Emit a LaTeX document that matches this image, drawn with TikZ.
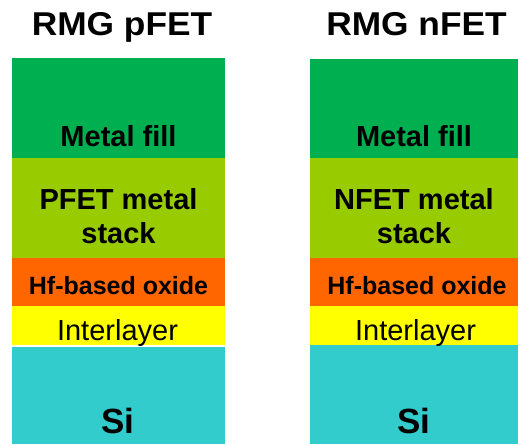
\documentclass[tikz,border=0pt]{standalone}
\usepackage{fontspec}
\setmainfont{Liberation Sans}
\definecolor{fillgreen}{HTML}{00B050}
\definecolor{stackolive}{HTML}{99CC00}
\definecolor{oxideorange}{HTML}{FF6600}
\definecolor{ilyellow}{HTML}{FFFF00}
\definecolor{sicyan}{HTML}{33CCCC}
\begin{document}
\begin{tikzpicture}[x=1pt,y=-1pt,
  title/.style={font=\fontsize{33}{33}\selectfont\bfseries, anchor=base, inner sep=0pt, xscale=1.07},
  boldlabel/.style={font=\fontsize{29}{34}\selectfont\bfseries, anchor=base, inner sep=0pt, align=center},
  oxidelabel/.style={font=\fontsize{25}{25}\selectfont\bfseries, anchor=base, inner sep=0pt},
  illabel/.style={font=\fontsize{29}{29}\selectfont, anchor=base, inner sep=0pt},
  silabel/.style={font=\fontsize{35}{35}\selectfont\bfseries, anchor=base, inner sep=0pt}]
\useasboundingbox (0,0) rectangle (518,444);
% left gate stack
\fill[fillgreen]   (12,58)  rectangle (225,158);
\fill[stackolive]  (12,158) rectangle (225,258);
\fill[oxideorange] (12,258) rectangle (225,306);
\fill[ilyellow]    (12,306) rectangle (225,345);
\fill[sicyan]      (12,346.5) rectangle (225,444);
% right gate stack
\fill[fillgreen]   (310,59)  rectangle (518,158);
\fill[stackolive]  (310,158) rectangle (518,258);
\fill[oxideorange] (310,258) rectangle (518,306);
\fill[ilyellow]    (310,306) rectangle (518,345.3);
\fill[sicyan]      (310,345.3) rectangle (518,444);
% labels
\node[title] (tp) at (122,35.5) {RMG pFET};
\node[title] (tn) at (416.5,35.5) {RMG nFET};
\node[boldlabel] (mfp) at (118.5,146) {Metal fill};
\node[boldlabel] (mfn) at (414,146) {Metal fill};
\node[boldlabel] (msp) at (118.5,243) {PFET metal\\stack};
\node[boldlabel] (msn) at (414,243) {NFET metal\\stack};
\node[oxidelabel] (oxp) at (118.5,294) {Hf-based oxide};
\node[oxidelabel] (oxn) at (417,294) {Hf-based oxide};
\node[illabel] (ilp) at (117.5,340) {Interlayer};
\node[illabel] (iln) at (415.5,340) {Interlayer};
\node[silabel] (sip) at (118,433) {Si};
\node[silabel] (sin) at (414,433) {Si};
\end{tikzpicture}
\end{document}
